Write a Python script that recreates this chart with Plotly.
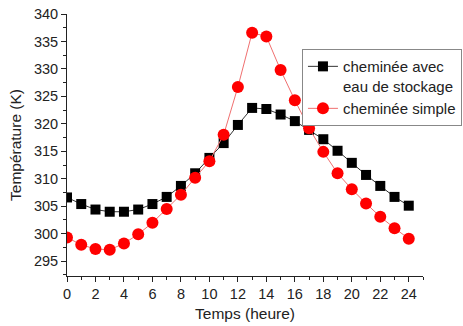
import plotly.graph_objects as go

hours = list(range(25))
avec_stockage = [306.6, 305.4, 304.4, 304.0, 304.0, 304.4, 305.4, 306.7, 308.7, 311.0,
                 313.8, 316.5, 319.8, 322.9, 322.7, 321.7, 320.5, 318.9, 317.2, 315.1,
                 312.9, 310.7, 308.7, 306.7, 305.1]
simple = [299.3, 298.0, 297.2, 297.1, 298.2, 299.9, 302.0, 304.5, 307.1, 310.2,
          313.2, 318.0, 326.7, 336.6, 335.9, 329.8, 324.3, 319.2, 314.9, 311.0,
          308.1, 305.5, 303.1, 301.0, 299.1]

name_avec = "cheminée avec<br>eau de stockage"
name_simple = "cheminée simple"

fig = go.Figure()
fig.add_trace(go.Scatter(
    x=hours, y=avec_stockage, mode="lines+markers", name=name_avec,
    line=dict(color="#333333", width=1),
    marker=dict(symbol="square", size=10, color="black"),
))
fig.add_trace(go.Scatter(
    x=hours, y=simple, mode="lines+markers", name=name_simple,
    line=dict(color="#f07070", width=1),
    marker=dict(symbol="circle", size=12, color="#ff0000"),
))

font_family = "Liberation Sans, Arial, sans-serif"
fig.update_layout(
    width=463, height=326,
    margin=dict(l=67, r=40, t=14, b=50, autoexpand=False),
    paper_bgcolor="white", plot_bgcolor="white",
    font=dict(family=font_family, size=14, color="#222222"),
    showlegend=True,
    legend=dict(
        x=0.66, y=0.866, xanchor="left", yanchor="top",
        bordercolor="#888888", borderwidth=1, bgcolor="white",
        font=dict(size=15, color="#222222"),
        valign="top", tracegroupgap=0,
    ),
    xaxis=dict(
        range=[0, 25], tickvals=list(range(0, 25, 2)),
        automargin=False,
        showgrid=False, zeroline=False,
        showline=True, linecolor="#222222", linewidth=1,
        ticks="outside", ticklen=5, tickcolor="#222222",
        minor=dict(dtick=1, tick0=0, ticks="outside", ticklen=3, tickcolor="#222222", showgrid=False),
        title=dict(text="Temps (heure)", font=dict(size=15.5), standoff=6),
        tickfont=dict(size=14.5),
    ),
    yaxis=dict(
        range=[292.3, 340], tickvals=list(range(295, 341, 5)),
        automargin=False,
        showgrid=False, zeroline=False,
        showline=True, linecolor="#222222", linewidth=1,
        ticks="outside", ticklen=5, tickcolor="#222222",
        minor=dict(dtick=2.5, tick0=295, ticks="outside", ticklen=3, tickcolor="#222222", showgrid=False),
        title=dict(text="Température (K)", font=dict(size=15.5), standoff=8),
        tickfont=dict(size=14.5),
    ),
)

fig.write_html("out.html", config={"displayModeBar": False},
               post_script="document.body.style.margin='0';document.body.style.overflow='hidden';")
